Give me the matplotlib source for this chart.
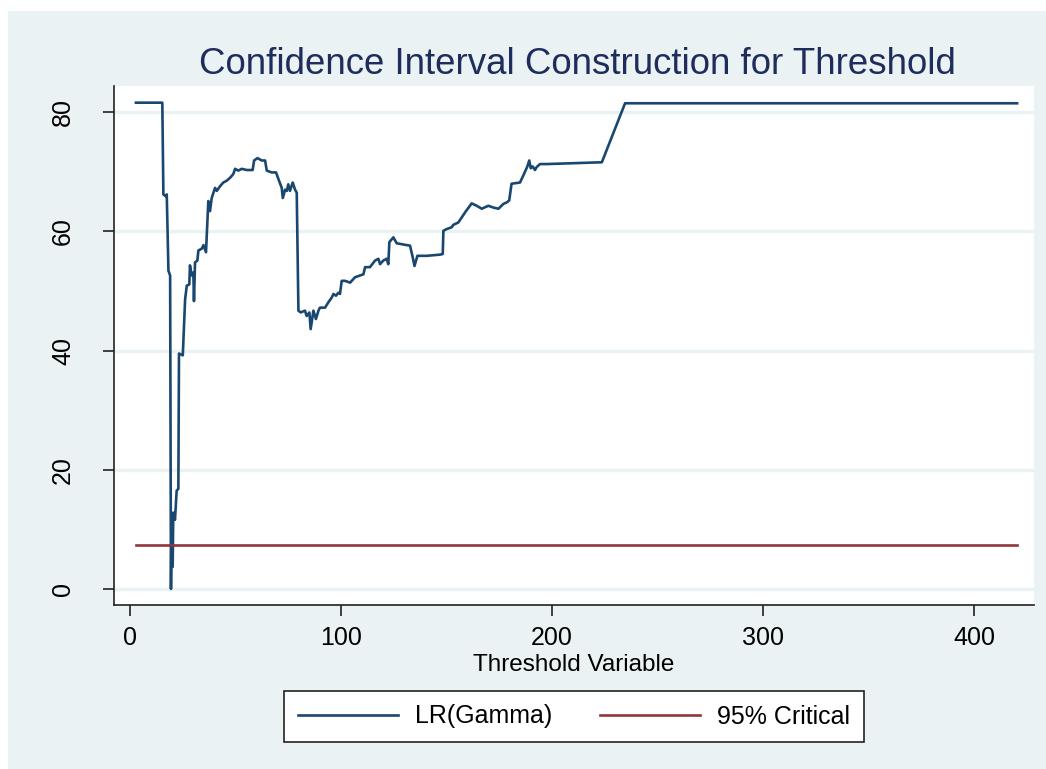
import numpy as np
import matplotlib
matplotlib.use("Agg")
import matplotlib.pyplot as plt
from matplotlib.patches import Rectangle

plt.rcParams['font.family'] = ['Liberation Sans', 'DejaVu Sans']

# --- Data ---
gamma = [2.8, 15.3, 15.8, 16.9, 17.4, 18.2, 19.0, 19.4, 19.7, 20.2, 20.5, 21.3, 22.1, 22.9,
         23.2, 25.0, 26.1, 26.9, 28.1, 28.4, 29.2, 30.0, 30.3, 30.8, 31.9, 32.4, 34.0, 34.8,
         36.0, 37.1, 37.9, 38.7, 40.3, 41.1, 42.7, 44.2, 45.8, 47.4, 48.9, 49.8, 51.3, 52.9,
         55.3, 58.1, 58.8, 60.4, 62.4, 64.0, 64.8, 67.1, 69.2, 70.3, 71.9, 72.4, 73.5, 74.3,
         75.0, 75.8, 77.1, 78.2, 79.0,
         79.8, 80.9, 82.9, 83.7, 85.0, 85.6, 86.9, 88.1, 89.3, 90.0, 92.4, 94.0, 95.6, 96.4,
         97.6, 98.7, 99.5, 100.3, 101.9, 104.3, 106.6, 110.6, 111.4, 113.7, 116.1, 117.7,
         118.5, 120.0, 121.6, 122.4, 122.9, 124.8, 126.4, 129.5, 132.7, 134.0, 134.8, 136.2,
         140.6, 146.9, 148.2, 148.5, 150.1, 152.5, 153.2, 155.6, 158.8, 161.9, 164.3, 166.7,
         169.8, 172.2, 174.6, 176.9, 178.7, 179.7, 180.8, 184.8, 186.4, 188.3, 189.2, 189.9,
         190.8, 191.9, 192.7, 194.3, 197.5, 223.6, 234.6, 420.4]
lr_gamma = [81.6, 81.6, 66.2, 65.9, 66.2, 53.4, 52.6, 0.0, 12.2, 3.7, 12.8, 11.6, 16.5, 16.8,
            39.5, 39.2, 48.6, 50.9, 51.1, 54.3, 52.6, 53.1, 48.3, 54.8, 55.1, 56.8, 57.1, 57.7,
            56.5, 65.1, 63.4, 65.6, 67.3, 66.8, 67.6, 68.2, 68.5, 69.0, 69.6, 70.5, 70.2, 70.5,
            70.3, 70.3, 71.9, 72.3, 71.9, 71.9, 70.2, 69.9, 69.9, 68.8, 67.3, 65.6, 67.0, 66.8,
            67.9, 66.8, 68.2, 67.0, 66.5,
            46.7, 46.4, 46.7, 45.8, 46.4, 43.6, 46.7, 45.3, 46.7, 47.2, 47.2, 48.1, 48.9, 49.5,
            49.2, 49.7, 49.5, 51.7, 51.7, 51.4, 52.3, 52.8, 54.0, 54.0, 55.1, 55.4,
            54.5, 55.1, 55.4, 54.5, 58.2, 59.0, 58.0, 57.8, 57.6, 55.6, 54.2, 55.9,
            55.9, 56.1, 56.2, 60.1, 60.4, 60.7, 61.1, 61.5, 63.2, 64.7, 64.3, 63.8,
            64.3, 64.0, 63.8, 64.6, 64.9, 65.2, 68.0, 68.2, 69.4, 70.9, 71.9, 70.6,
            70.9, 70.3, 70.8, 71.3, 71.3, 71.6, 81.5, 81.5]
critical_95 = 7.35

x_ticks = [0, 100, 200, 300, 400]
y_ticks = [0, 20, 40, 60, 80]

# Stata s2color-ish palette
bg = '#eaf2f3'
navy = '#1a476f'
maroon = '#90353b'

fig = plt.figure(figsize=(10.46, 7.69), dpi=100, facecolor='white')
fig.patches.append(Rectangle((8 / 1046, 0), 1, 1 - 11 / 769, transform=fig.transFigure,
                             facecolor=bg, edgecolor='none', zorder=-5))

ax = fig.add_axes([114 / 1046, 1 - 605 / 769, (1034 - 114) / 1046, (605 - 86) / 769])
ax.set_facecolor('white')

ax.plot(gamma, lr_gamma, color=navy, lw=1.9, label='LR(Gamma)', zorder=3)
ax.plot([gamma[0], gamma[-1]], [critical_95, critical_95], color=maroon, lw=1.9,
        label='95% Critical', zorder=3)

ax.set_xlim(-7.6, 428.4)
ax.set_ylim(-2.7, 84.4)
ax.set_xticks(x_ticks)
ax.set_yticks(y_ticks)
ax.tick_params(axis='both', labelsize=18, length=8, width=1.2, color='#222222')
ax.tick_params(axis='x', pad=7)
ax.tick_params(axis='y', pad=20)
for lbl in ax.get_yticklabels():
    lbl.set_rotation(90)
    lbl.set_va('center')
ax.grid(axis='y', color=bg, lw=2.5, zorder=1)
ax.grid(axis='x', visible=False)
for s in ['top', 'right']:
    ax.spines[s].set_visible(False)
for s in ['left', 'bottom']:
    ax.spines[s].set_color('#222222')
    ax.spines[s].set_linewidth(1.2)

ax.set_xlabel('Threshold Variable', fontsize=17.5, labelpad=3)
fig.text(577 / 1046, 1 - 64 / 769, 'Confidence Interval Construction for Threshold',
         ha='center', va='center', fontsize=26.4, color='#1e2d5c')

leg = fig.legend(loc='center', bbox_to_anchor=(574 / 1046, 1 - 716.5 / 769), ncol=2,
                 fontsize=18, frameon=True, fancybox=False, framealpha=1,
                 handlelength=4.0, handletextpad=0.7, columnspacing=1.9, borderpad=0.55)
leg.get_frame().set_edgecolor('#222222')
leg.get_frame().set_facecolor('white')
leg.get_frame().set_linewidth(1.2)

fig.savefig('out.png', dpi=100, facecolor=fig.get_facecolor())
